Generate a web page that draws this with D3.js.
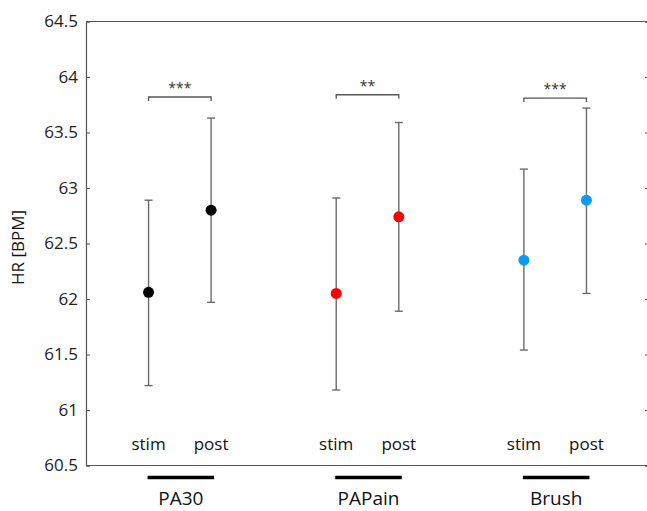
<!DOCTYPE html>
<html>
<head>
<meta charset="utf-8">
<script src="https://d3js.org/d3.v7.min.js"></script>
<style>
  body { margin: 0; background: #fff; }
  text { font-family: "Open Sans", sans-serif; }
</style>
</head>
<body>
<svg id="chart" width="647" height="511"></svg>
<script>
// data
var groups = ["PA30", "PAPain", "Brush"];
var conditions = ["stim", "post"];
var colors = ["#000000", "#ff0000", "#0a9bf7"];
var xPos = [1, 2, 4, 5, 7, 8];
var means = [62.06, 62.80, 62.05, 62.74, 62.35, 62.89];
var upper = [62.89, 63.63, 62.91, 63.59, 63.17, 63.72];
var lower = [61.22, 61.97, 61.18, 61.89, 61.54, 62.05];
var sigLabels = ["***", "**", "***"];
var sigLevel = [63.82, 63.84, 63.81];
var yTicks = [60.5, 61, 61.5, 62, 62.5, 63, 63.5, 64, 64.5];

var svg = d3.select("#chart");

var x = d3.scaleLinear().domain([0, 9]).range([86, 649]);
var y = d3.scaleLinear().domain([60.5, 64.5]).range([465.5, 21.5]);

var axisColor = "#555";

// top line of the box
svg.append("line")
  .attr("x1", x(0)).attr("x2", x(9))
  .attr("y1", y(64.5)).attr("y2", y(64.5))
  .attr("stroke", axisColor).attr("stroke-width", 1.2);

// left axis (ticks pointing inward)
var yAxis = svg.append("g")
  .attr("transform", "translate(" + x(0) + ",0)")
  .call(d3.axisRight(y).tickValues(yTicks).tickSize(4).tickFormat(d3.format("")));
yAxis.select(".domain").attr("stroke", axisColor).attr("stroke-width", 1.2);
yAxis.selectAll(".tick line").attr("stroke", axisColor);
yAxis.selectAll(".tick text")
  .attr("x", -8)
  .attr("text-anchor", "end")
  .attr("fill", "#222")
  .style("font-size", "17px")
  .style("font-family", "'Open Sans', sans-serif");

// right side ticks (axis line falls just off the image)
var yAxisR = svg.append("g")
  .attr("transform", "translate(" + x(9) + ",0)")
  .call(d3.axisLeft(y).tickValues(yTicks).tickSize(4).tickFormat(""));
yAxisR.select(".domain").attr("stroke", axisColor).attr("stroke-width", 1.2);
yAxisR.selectAll(".tick line").attr("stroke", axisColor);

// bottom axis line
svg.append("line")
  .attr("x1", x(0)).attr("x2", x(9))
  .attr("y1", y(60.5)).attr("y2", y(60.5))
  .attr("stroke", axisColor).attr("stroke-width", 1.2);

// y label
svg.append("text")
  .attr("transform", "translate(24," + (y(62.5) + 4) + ") rotate(-90)")
  .attr("text-anchor", "middle")
  .attr("fill", "#111")
  .style("font-size", "17px")
  .text("HR [BPM]");

// error bars
var errColor = "#6a6a6a";
var capW = 4;
var bars = svg.append("g");
xPos.forEach(function (xv, i) {
  bars.append("line")
    .attr("x1", x(xv)).attr("x2", x(xv))
    .attr("y1", y(lower[i])).attr("y2", y(upper[i]))
    .attr("stroke", errColor).attr("stroke-width", 1.4);
  [lower[i], upper[i]].forEach(function (v) {
    bars.append("line")
      .attr("x1", x(xv) - capW).attr("x2", x(xv) + capW)
      .attr("y1", y(v)).attr("y2", y(v))
      .attr("stroke", errColor).attr("stroke-width", 1.4);
  });
});

// means
svg.append("g").selectAll("circle")
  .data(means)
  .enter()
  .append("circle")
  .attr("cx", function (d, i) { return x(xPos[i]); })
  .attr("cy", function (d) { return y(d); })
  .attr("r", 5.5)
  .attr("fill", function (d, i) { return colors[Math.floor(i / 2)]; });

// significance brackets
groups.forEach(function (g, gi) {
  var x1 = x(xPos[gi * 2]), x2 = x(xPos[gi * 2 + 1]);
  var yb = y(sigLevel[gi]);
  svg.append("path")
    .attr("d", "M" + x1 + "," + (yb + 4) + "V" + yb + "H" + x2 + "V" + (yb + 4))
    .attr("fill", "none")
    .attr("stroke", "#555")
    .attr("stroke-width", 1.3);
  svg.append("text")
    .attr("x", (x1 + x2) / 2)
    .attr("y", yb - 4)
    .attr("text-anchor", "middle")
    .attr("fill", "#333")
    .style("font-size", "14px")
    .text(sigLabels[gi]);
});

// condition labels
xPos.forEach(function (xv, i) {
  svg.append("text")
    .attr("x", x(xv))
    .attr("y", 450)
    .attr("text-anchor", "middle")
    .attr("fill", "#111")
    .style("font-size", "17px")
    .text(conditions[i % 2]);
});

// group underline + names
groups.forEach(function (g, gi) {
  var x1 = x(xPos[gi * 2]), x2 = x(xPos[gi * 2 + 1]);
  svg.append("line")
    .attr("x1", x1 - 1).attr("x2", x2 + 3)
    .attr("y1", 477.5).attr("y2", 477.5)
    .attr("stroke", "#000").attr("stroke-width", 3.5);
  svg.append("text")
    .attr("x", (x1 + x2) / 2 + 1)
    .attr("y", 505)
    .attr("text-anchor", "middle")
    .attr("fill", "#111")
    .style("font-size", "19px")
    .text(g);
});
</script>
</body>
</html>
